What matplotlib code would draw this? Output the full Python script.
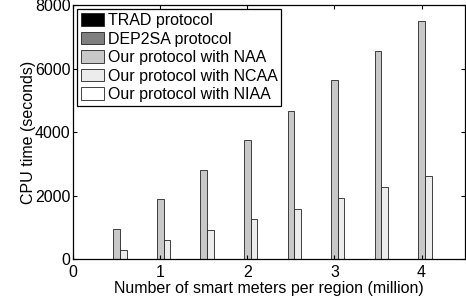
import numpy as np
import matplotlib
matplotlib.use("Agg")
import matplotlib.pyplot as plt

plt.rcParams['font.family'] = ['Liberation Sans', 'DejaVu Sans']

meters = [0.5, 1.0, 1.5, 2.0, 2.5, 3.0, 3.5, 4.0]
trad = [0, 0, 0, 0, 0, 0, 0, 0]
dep2sa = [0, 0, 0, 0, 0, 0, 0, 0]
naa = [950, 1890, 2815, 3757, 4679, 5644, 6566, 7500]
ncaa = [300, 613, 928, 1264, 1588, 1924, 2270, 2616]
niaa = [0, 0, 0, 0, 0, 0, 0, 0]

labels = ["TRAD protocol", "DEP2SA protocol", "Our protocol with NAA",
          "Our protocol with NCAA", "Our protocol with NIAA"]
colors = ["#000000", "#7f7f7f", "#c8c8c8", "#ececec", "#ffffff"]
series = [trad, dep2sa, naa, ncaa, niaa]

fig = plt.figure(figsize=(4.66, 3.01), dpi=100)
ax = fig.add_axes([0.157, 0.138, 0.841, 0.845])

x = np.array(meters)
w = 0.077
for i, (vals, lab, c) in enumerate(zip(series, labels, colors)):
    ax.bar(x + (i - 2) * w, vals, width=w, color=c, edgecolor="#222222",
           linewidth=0.6, label=lab)

ax.set_xlim(0, 4.5)
ax.set_ylim(0, 8000)
ax.set_xticks([0, 1, 2, 3, 4])
ax.set_yticks([0, 2000, 4000, 6000, 8000])
ax.tick_params(direction="in", top=True, right=True, labelsize=11.5,
               length=3, width=0.8)
ax.tick_params(axis="x", pad=4)
ax.tick_params(axis="y", pad=2)
for s in ax.spines.values():
    s.set_linewidth(0.9)

ax.set_xlabel("Number of smart meters per region (million)", fontsize=11.5, labelpad=0.5)
ax.set_ylabel("CPU time (seconds)", fontsize=11.5, labelpad=-1)

leg = ax.legend(loc="upper left", fontsize=11.5, fancybox=False, framealpha=1,
                edgecolor="black", borderpad=0.25, labelspacing=0.22,
                handlelength=1.4, handleheight=0.85, handletextpad=0.25,
                borderaxespad=0.25)
leg.get_frame().set_linewidth(0.9)

fig.savefig("out.png", dpi=100)
